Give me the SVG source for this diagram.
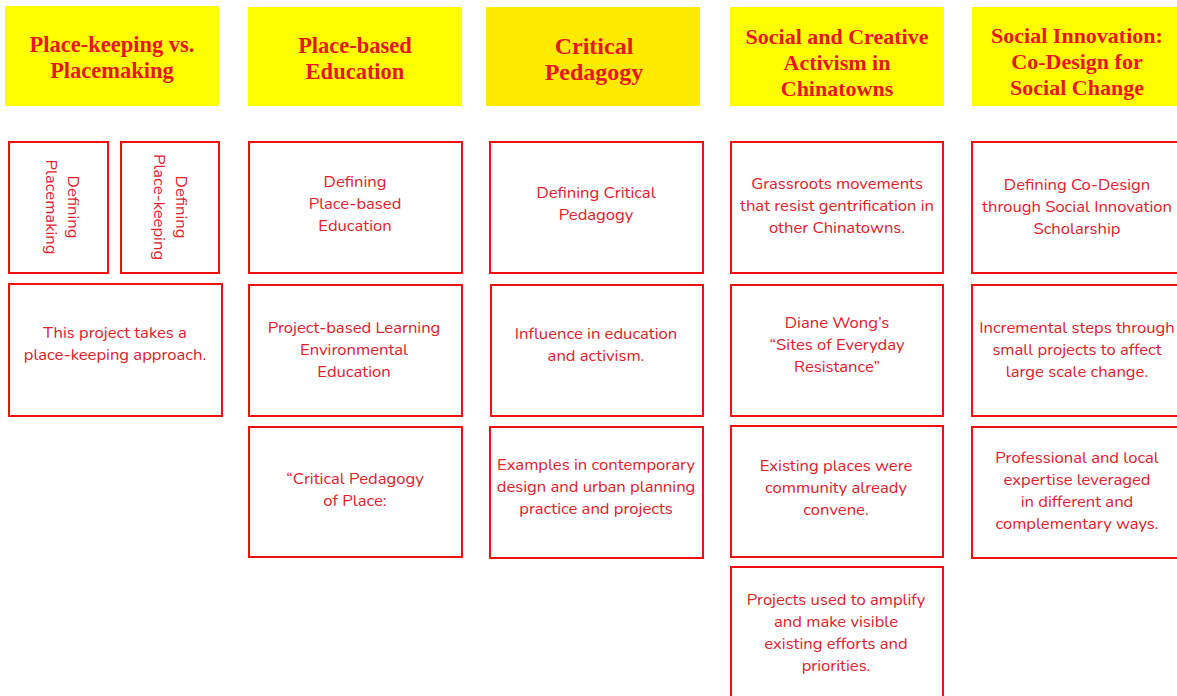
<svg xmlns="http://www.w3.org/2000/svg" width="1177" height="696" viewBox="0 0 1177 696">
  <style>
    .hdr { fill: #ffff00; }
    .hdr-alt { fill: #ffeb00; }
    .htxt { font-family: "Liberation Serif", "DejaVu Serif", serif; font-weight: bold; font-size: 22px; fill: #e8161e; text-anchor: middle; }
    .htxt.wide { font-size: 22.5px; }
    .card { fill: #ffffff; stroke: #f01010; stroke-width: 2; }
    .ctxt { font-family: "Nunito", "Open Sans", "Lato", sans-serif; font-size: 16.6px; fill: #e0202a; text-anchor: middle; }
  </style>
  <rect width="1177" height="696" fill="#ffffff"/>

  <!-- column headers -->
  <g id="h1">
    <rect class="hdr" x="5" y="6" width="214" height="100"/>
    <text class="htxt wide" x="112" y="52">Place-keeping vs.</text>
    <text class="htxt wide" x="112" y="78">Placemaking</text>
  </g>
  <g id="h2">
    <rect class="hdr" x="248" y="7" width="214" height="99"/>
    <text class="htxt wide" x="355" y="53">Place-based</text>
    <text class="htxt wide" x="355" y="79">Education</text>
  </g>
  <g id="h3">
    <rect class="hdr-alt" x="486" y="7" width="214" height="99"/>
    <text class="htxt" x="594" y="54" style="font-size:24px">Critical</text>
    <text class="htxt" x="594" y="80" style="font-size:24px">Pedagogy</text>
  </g>
  <g id="h4">
    <rect class="hdr" x="730" y="7" width="214" height="99"/>
    <text class="htxt" x="837" y="44">Social and Creative</text>
    <text class="htxt" x="837" y="70">Activism in</text>
    <text class="htxt" x="837" y="96">Chinatowns</text>
  </g>
  <g id="h5">
    <rect class="hdr" x="972" y="7" width="210" height="99"/>
    <text class="htxt" x="1077" y="43">Social Innovation:</text>
    <text class="htxt" x="1077" y="69">Co-Design for</text>
    <text class="htxt" x="1077" y="95">Social Change</text>
  </g>

  <!-- column 1 -->
  <g id="c1a">
    <rect class="card" x="9" y="142" width="99" height="131"/>
    <g transform="translate(58.5,207) rotate(90)">
      <text class="ctxt" x="0" y="-9">Defining</text>
      <text class="ctxt" x="0" y="13">Placemaking</text>
    </g>
  </g>
  <g id="c1b">
    <rect class="card" x="121" y="142" width="98" height="131"/>
    <g transform="translate(170,207) rotate(90)">
      <text class="ctxt" x="0" y="-6">Defining</text>
      <text class="ctxt" x="0" y="16">Place-keeping</text>
    </g>
  </g>
  <g id="c1c">
    <rect class="card" x="9" y="284" width="213" height="132"/>
    <text class="ctxt" x="115" y="338">This project takes a</text>
    <text class="ctxt" x="115" y="360">place-keeping approach.</text>
  </g>

  <!-- column 2 -->
  <g id="c2a">
    <rect class="card" x="249" y="142" width="213" height="131"/>
    <text class="ctxt" x="355" y="187">Defining</text>
    <text class="ctxt" x="355" y="209">Place-based</text>
    <text class="ctxt" x="355" y="231">Education</text>
  </g>
  <g id="c2b">
    <rect class="card" x="249" y="285" width="213" height="131"/>
    <text class="ctxt" x="354" y="333">Project-based Learning</text>
    <text class="ctxt" x="354" y="355">Environmental</text>
    <text class="ctxt" x="354" y="377">Education</text>
  </g>
  <g id="c2c">
    <rect class="card" x="249" y="427" width="213" height="130"/>
    <text class="ctxt" x="355" y="484">“Critical Pedagogy</text>
    <text class="ctxt" x="355" y="506">of Place:</text>
  </g>

  <!-- column 3 -->
  <g id="c3a">
    <rect class="card" x="490" y="142" width="213" height="131"/>
    <text class="ctxt" x="596" y="198">Defining Critical</text>
    <text class="ctxt" x="596" y="220">Pedagogy</text>
  </g>
  <g id="c3b">
    <rect class="card" x="491" y="285" width="212" height="131"/>
    <text class="ctxt" x="596" y="339">Influence in education</text>
    <text class="ctxt" x="596" y="361">and activism.</text>
  </g>
  <g id="c3c">
    <rect class="card" x="490" y="427" width="213" height="131"/>
    <text class="ctxt" x="596" y="470">Examples in contemporary</text>
    <text class="ctxt" x="596" y="492">design and urban planning</text>
    <text class="ctxt" x="596" y="514">practice and projects</text>
  </g>

  <!-- column 4 -->
  <g id="c4a">
    <rect class="card" x="731" y="142" width="212" height="131"/>
    <text class="ctxt" x="837" y="189">Grassroots movements</text>
    <text class="ctxt" x="837" y="211">that resist gentrification in</text>
    <text class="ctxt" x="837" y="233">other Chinatowns.</text>
  </g>
  <g id="c4b">
    <rect class="card" x="731" y="285" width="212" height="131"/>
    <text class="ctxt" x="837" y="328">Diane Wong’s</text>
    <text class="ctxt" x="837" y="350">“Sites of Everyday</text>
    <text class="ctxt" x="837" y="372">Resistance”</text>
  </g>
  <g id="c4c">
    <rect class="card" x="731" y="426" width="212" height="131"/>
    <text class="ctxt" x="836" y="471">Existing places were</text>
    <text class="ctxt" x="836" y="493">community already</text>
    <text class="ctxt" x="836" y="515">convene.</text>
  </g>
  <g id="c4d">
    <rect class="card" x="731" y="567" width="212" height="135"/>
    <text class="ctxt" x="836" y="605">Projects used to amplify</text>
    <text class="ctxt" x="836" y="627">and make visible</text>
    <text class="ctxt" x="836" y="649">existing efforts and</text>
    <text class="ctxt" x="836" y="671">priorities.</text>
  </g>

  <!-- column 5 -->
  <g id="c5a">
    <rect class="card" x="972" y="142" width="212" height="131"/>
    <text class="ctxt" x="1077" y="190">Defining Co-Design</text>
    <text class="ctxt" x="1077" y="212">through Social Innovation</text>
    <text class="ctxt" x="1077" y="234">Scholarship</text>
  </g>
  <g id="c5b">
    <rect class="card" x="972" y="285" width="212" height="131"/>
    <text class="ctxt" x="1077" y="333">Incremental steps through</text>
    <text class="ctxt" x="1077" y="355">small projects to affect</text>
    <text class="ctxt" x="1077" y="377">large scale change.</text>
  </g>
  <g id="c5c">
    <rect class="card" x="972" y="427" width="212" height="131"/>
    <text class="ctxt" x="1077" y="463">Professional and local</text>
    <text class="ctxt" x="1077" y="485">expertise leveraged</text>
    <text class="ctxt" x="1077" y="507">in different and</text>
    <text class="ctxt" x="1077" y="529">complementary ways.</text>
  </g>
</svg>
